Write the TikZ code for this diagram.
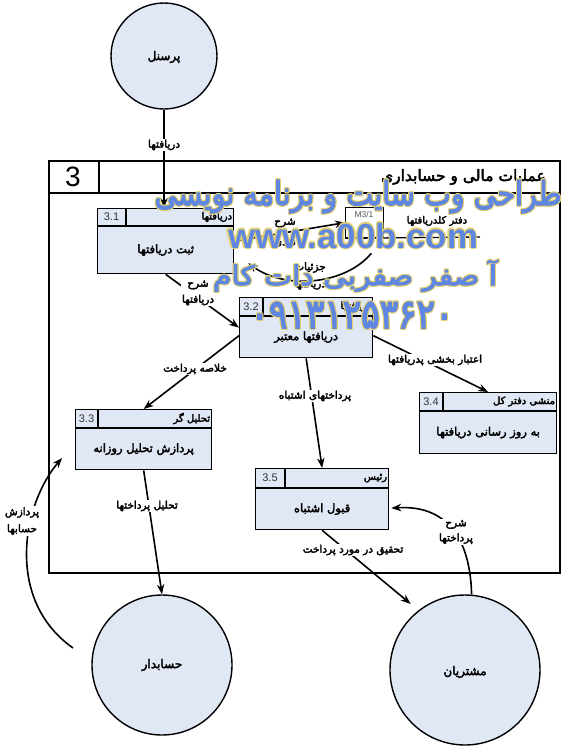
\documentclass[tikz,border=0pt]{standalone}
\usepackage{fontspec}
\usepackage{graphicx}
\setmainfont{Liberation Sans}
\newfontfamily\fa[Script=Arabic, FakeBold=3]{DejaVu Sans}
\newfontfamily\wmfa[Script=Arabic, FakeBold=4]{DejaVu Sans}
\TeXXeTstate=1
\usetikzlibrary{arrows.meta}
\definecolor{boxfill}{RGB}{224,232,245}
\definecolor{wmblue}{RGB}{95,135,225}
\definecolor{wmyellow}{RGB}{228,208,115}
\newcommand\fr[1]{{\fa\beginR #1\endR}}
\newcommand\wmr[1]{{\wmfa\beginR #1\endR}}
\tikzset{
  pbox/.style={draw, line width=1.3pt, fill=boxfill, inner sep=0pt},
  ent/.style={circle, draw, line width=1.4pt, fill=boxfill, inner sep=0pt},
  arr/.style={line width=1.6pt, -{Stealth[length=10pt,width=7.5pt]}},
  lbl/.style={font=\fontsize{10.5}{16}\selectfont, align=center, inner sep=1pt},
  lblw/.style={lbl, fill=white},
  ptitle/.style={font=\fontsize{11.5}{13}\selectfont, inner sep=0pt},
  roletxt/.style={font=\fontsize{10}{11}\selectfont, inner sep=0pt},
  idtxt/.style={font=\fontsize{11}{12}\selectfont, text=black!80, inner sep=0pt},
  enttxt/.style={font=\fontsize{12}{14}\selectfont, inner sep=0pt},
  wmtxt/.style={text=wmblue, inner sep=0pt, anchor=base},
  wmhalo/.style={text=wmyellow, inner sep=0pt, anchor=base}
}
% name, x, y, width, height, header height, id width, id, role
\newcommand\procbox[9]{%
  \node[pbox, minimum width=#4pt, minimum height=#5pt, anchor=north west] (#1) at (#2,#3) {};
  \draw[line width=1.3pt] ([yshift=-#6]#1.north west) -- ([yshift=-#6]#1.north east);
  \draw[line width=1.3pt] ([xshift=#7]#1.north west) -- ([xshift=#7,yshift=-#6]#1.north west);
  \node[idtxt] (#1id) at ([xshift=#7/2,yshift=-#6/2]#1.north west) {#8};
  \node[roletxt, anchor=east] (#1r) at ([xshift=-2,yshift=-#6/2]#1.north east) {#9};
}
% name, x, y(baseline), content
\newcommand\wmark[4]{%
  \foreach \dx/\dy/\s in {-1.1/0/a, 1.1/0/b, 0/-1.1/c, 0/1.1/d, 0.8/0.8/e, -0.8/-0.8/f, 0.8/-0.8/g, -0.8/0.8/h}{%
    \node[wmhalo] (#1\s) at ([shift={(\dx,\dy)}]#2,#3) {#4};}
  \node[wmtxt] (#1) at (#2,#3) {#4};
}
\begin{document}
\begin{tikzpicture}[x=1pt,y=-1pt]
\useasboundingbox (0,0) rectangle (567,748);

% frame
\node[draw, line width=1.7pt, minimum width=511pt, minimum height=412pt, anchor=north west, inner sep=0pt] (frame) at (48,160) {};
\draw[line width=1.7pt] ([yshift=-33]frame.north west) -- ([yshift=-33]frame.north east);
\draw[line width=1.7pt] ([xshift=51]frame.north west) -- ([xshift=51,yshift=-33]frame.north west);
\node[font=\fontsize{28}{30}\selectfont, inner sep=0pt] (fnum) at (73,177) {3};
\node[font=\fontsize{15.5}{17}\selectfont, anchor=east, inner sep=0pt] (ftitle) at (546,177) {\fr{عملیات مالی و حسابداری}};

% entities
\node[ent, minimum size=106pt] (pers) at (164,56) {};
\node[enttxt] (perst) at (164,57) {\fr{پرسنل}};
\node[ent, minimum size=140pt] (hes) at (162,665) {};
\node[enttxt] (hest) at (162,665) {\fr{حسابدار}};
\node[ent, minimum size=150pt] (mosh) at (465,670) {};
\node[enttxt] (mosht) at (465,672) {\fr{مشتریان}};

% processes
\procbox{p31}{97}{208}{136}{65}{18}{29}{3.1}{\fr{دریافتها}}
\node[ptitle] (p31t) at ([yshift=-9]p31.center) {\fr{ثبت دریافتها}};
\procbox{p32}{239}{297}{133}{60}{19}{24}{3.2}{\fr{دریافتها}}
\node[ptitle] (p32t) at ([yshift=-9.5]p32.center) {\fr{دریافتها معتبر}};
\procbox{p33}{75}{409}{136}{60}{19}{23}{3.3}{\fr{تحلیل گر}}
\node[ptitle] (p33t) at ([yshift=-9.5]p33.center) {\fr{پردازش تحلیل روزانه}};
\procbox{p34}{419}{392}{137}{61}{19}{24}{3.4}{\fr{منشی دفتر کل}}
\node[ptitle] (p34t) at ([yshift=-9.5]p34.center) {\fr{به روز رسانی دریافتها}};
\procbox{p35}{255}{468}{133}{61}{20}{30}{3.5}{\fr{رئیس}}
\node[ptitle] (p35t) at ([yshift=-10]p35.center) {\fr{قبول اشتباه}};

% data store
\node[draw, line width=1.3pt, minimum width=38pt, minimum height=30pt, anchor=north west, inner sep=0pt, fill=white] (ds) at (345,207) {};
\node[font=\fontsize{8.5}{10}\selectfont, text=black!65, inner sep=0pt] (dsid) at (364,214) {M3/1};
\coordinate (dsend) at (480,237);
\draw[line width=1.3pt] (ds.south west) -- (dsend);
\node[roletxt] (dsn) at (437,221) {\fr{دفتر کلدریافتها}};

% connectors
\draw[arr] (pers.south) -- (pers.south |- p31.north);
\node[lblw] (l1) at (164,145) {\fr{دریافتها}};

\draw[arr] (p31.east) -- (ds.west);
\node[lbl] (l2a) at (285,223) {\fr{شرح}};
\node[lbl] (l2b) at (285,243) {\fr{نقدی}};

\draw[arr] ([xshift=-13,yshift=-15]ds.south east) .. controls (345,285) and (285,290) .. ([xshift=14,yshift=-22]p31.east);
\node[lbl, font=\fontsize{10.5}{17}\selectfont] (l3) at (310,276) {\fr{جزئیات}\\\fr{دریافتها}};

\draw[arr] (p31.south) -- (p32.west);
\node[lblw] (l4) at (198,293) {\fr{شرح}\\\fr{دریافتها}};

\draw[arr] ([yshift=-8]p32.west) -- (p33.north);
\node[lblw] (l5) at (195,369) {\fr{خلاصه پرداخت}};

\draw[arr] (p32.south) -- (p35.north);
\node[lblw] (l6) at (315,396) {\fr{پرداختهای اشتباه}};

\draw[arr] ([yshift=-8]p32.east) -- (p34.north);
\node[lblw] (l7) at (435,360) {\fr{اعتبار بخشی پدریافتها}};

\draw[arr] (p33.south) -- (hes.north);
\node[lblw] (l8) at (147,506) {\fr{تحلیل پرداختها}};

\coordinate (hesout) at (73,648);
\coordinate (p33in) at (62,458);
\draw[arr] (hesout) .. controls (5,600) and (22,505) .. (p33in);
\node[lblw, font=\fontsize{10.5}{17}\selectfont] (l9) at (22,521) {\fr{پردازش}\\\fr{حسابها}};

\draw[arr, shorten >=10pt] (p35.south) -- (mosh.128);
\node[lblw] (l10) at (353,550) {\fr{تحقیق در مورد پرداخت}};

\draw[arr] (mosh.85) .. controls (470,530) and (440,505) .. ([xshift=2,yshift=-9]p35.east);
\node[lblw, font=\fontsize{10.5}{15}\selectfont] (l11) at (456,532) {\fr{شرح}\\\fr{پرداختها}};

% watermark
\wmark{wm1}{358}{205}{\resizebox{407pt}{25pt}{\wmr{طراحی وب سایت و برنامه نویسی}}}
\wmark{wm2}{353}{248}{\resizebox{250pt}{!}{\bfseries www.a00b.com}}
\wmark{wm3}{355}{285}{\resizebox{284pt}{25pt}{\wmr{آ صفر صفربی دات کام}}}
\wmark{wm4}{352}{328}{\resizebox{203pt}{26pt}{{\wmfa ۰۹۱۳۱۲۵۳۶۲۰}}}
\end{tikzpicture}
\end{document}
